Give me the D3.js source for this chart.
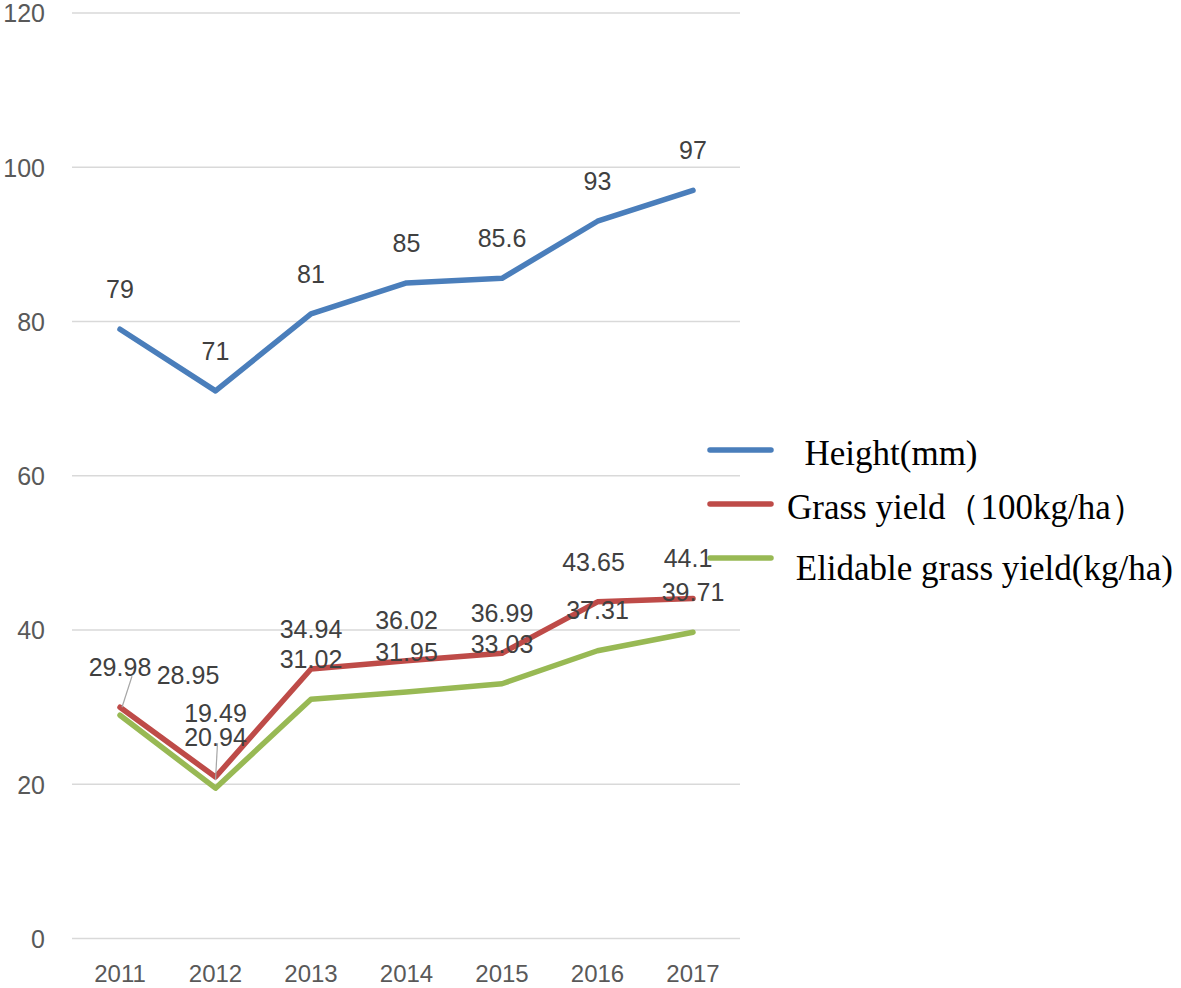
<!DOCTYPE html>
<html>
<head>
<meta charset="utf-8">
<script src="https://cdn.jsdelivr.net/npm/d3@7/dist/d3.min.js"></script>
<style>
  html, body { margin: 0; padding: 0; background: #ffffff; }
  svg { display: block; }
</style>
</head>
<body>
<svg id="chart" width="1181" height="988"></svg>
<script>
// ---- data ----
const years = ["2011", "2012", "2013", "2014", "2015", "2016", "2017"];
const heightValues = [79, 71, 81, 85, 85.6, 93, 97];
const grassYield = [29.98, 20.94, 34.94, 36.02, 36.99, 43.65, 44.1];
const elidableYield = [28.95, 19.49, 31.02, 31.95, 33.03, 37.31, 39.71];
const seriesNames = ["  Height(mm)", "Grass yield（100kg/ha）", " Elidable grass yield(kg/ha)"];
const yTicks = [0, 20, 40, 60, 80, 100, 120];

const series = [
  { name: seriesNames[0], values: heightValues, color: "#4A7EBB" },
  { name: seriesNames[1], values: grassYield, color: "#BE4B48" },
  { name: seriesNames[2], values: elidableYield, color: "#98B954" }
];

const svg = d3.select("#chart");

const x = d3.scaleBand().domain(years).range([72.25, 740.75]).padding(0);
const y = d3.scaleLinear().domain([0, 120]).range([938.5, 13]);
const cx = d => x(d) + x.bandwidth() / 2;

// gridlines
svg.append("g")
  .selectAll("line")
  .data(yTicks)
  .join("line")
  .attr("x1", 72).attr("x2", 740)
  .attr("y1", d => y(d)).attr("y2", d => y(d))
  .attr("stroke", "#d9d9d9")
  .attr("stroke-width", 1.5);

// y axis labels
const yAxis = d3.axisLeft(y).tickValues(yTicks).tickSize(0).tickPadding(0).tickFormat(d3.format("d"));
const gy = svg.append("g").attr("transform", "translate(45,0)").call(yAxis);
gy.select(".domain").remove();
gy.selectAll("text")
  .attr("font-family", "'Liberation Sans', Arial, sans-serif")
  .attr("font-size", 25)
  .attr("fill", "#595959")
  .attr("dy", "0.35em");

// x axis labels
const xAxis = d3.axisBottom(x).tickSize(0).tickPadding(0);
const gx = svg.append("g").attr("transform", "translate(0,974)").call(xAxis);
gx.select(".domain").remove();
gx.selectAll("text")
  .attr("font-family", "'Liberation Sans', Arial, sans-serif")
  .attr("font-size", 24)
  .attr("fill", "#595959")
  .attr("dy", "0.35em");

// lines
const line = d3.line()
  .x((d, i) => cx(years[i]))
  .y(d => y(d));

svg.append("g")
  .selectAll("path")
  .data(series)
  .join("path")
  .attr("d", s => line(s.values))
  .attr("fill", "none")
  .attr("stroke", s => s.color)
  .attr("stroke-width", 5.5)
  .attr("stroke-linejoin", "round")
  .attr("stroke-linecap", "round");

// leader lines (label connectors)
const leaders = [
  { s: 1, i: 0, x1: 12, y1: -31, x2: 2, y2: 0 },
  { s: 2, i: 1, x1: 2, y1: -45, x2: 0, y2: -8 }
];
svg.append("g")
  .selectAll("line")
  .data(leaders)
  .join("line")
  .attr("x1", d => cx(years[d.i]) + d.x1)
  .attr("y1", d => y(series[d.s].values[d.i]) + d.y1)
  .attr("x2", d => cx(years[d.i]) + d.x2)
  .attr("y2", d => y(series[d.s].values[d.i]) + d.y2)
  .attr("stroke", "#a6a6a6")
  .attr("stroke-width", 1.2);

// data labels
const labelShift = {
  "2-0": [68, 0],
  "2-1": [0, -35],
  "1-5": [-4, 0],
  "1-6": [-5, 0]
};
const labelData = [];
series.forEach((s, si) => {
  s.values.forEach((v, i) => {
    const sh = labelShift[si + "-" + i] || [0, 0];
    labelData.push({ v, x: cx(years[i]) + sh[0], y: y(v) - 40 + sh[1] });
  });
});
svg.append("g")
  .selectAll("text")
  .data(labelData)
  .join("text")
  .attr("x", d => d.x)
  .attr("y", d => d.y)
  .attr("dy", "0.35em")
  .attr("text-anchor", "middle")
  .attr("font-family", "'Liberation Sans', Arial, sans-serif")
  .attr("font-size", 25)
  .attr("fill", "#404040")
  .text(d => d.v);

// legend
const legendY = d3.scalePoint().domain(seriesNames).range([450, 558]);
const lg = svg.append("g");
const items = lg.selectAll("g").data(series).join("g")
  .attr("transform", s => `translate(0,${legendY(s.name)})`);
items.append("line")
  .attr("x1", 710).attr("x2", 771)
  .attr("y1", 0).attr("y2", 0)
  .attr("stroke", s => s.color)
  .attr("stroke-width", 5.5)
  .attr("stroke-linecap", "round");
items.append("text")
  .attr("x", 787)
  .attr("y", (s, i) => i === 2 ? 10 : 3)
  .attr("dy", "0.35em")
  .attr("xml:space", "preserve")
  .style("white-space", "pre")
  .attr("font-family", "'Liberation Serif', 'Times New Roman', serif")
  .attr("font-size", 35)
  .attr("fill", "#000000")
  .text(s => s.name);
</script>
</body>
</html>
